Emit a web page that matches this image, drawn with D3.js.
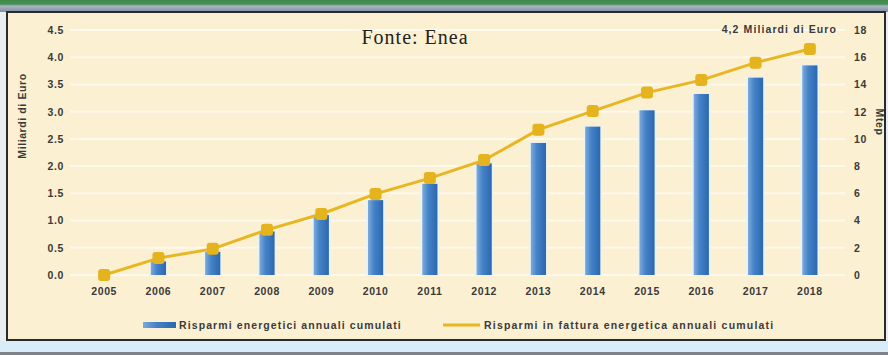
<!DOCTYPE html>
<html><head><meta charset="utf-8">
<script src="https://cdn.jsdelivr.net/npm/d3@7"></script>
<style>html,body{margin:0;padding:0;background:#fff;}svg{display:block;}</style>
</head><body>
<script>
const years = ["2005","2006","2007","2008","2009","2010","2011","2012","2013","2014","2015","2016","2017","2018"];
const energySavingsMtep = [0, 1.0, 1.7, 3.2, 4.4, 5.5, 6.7, 8.2, 9.7, 10.9, 12.1, 13.3, 14.5, 15.4];
const billSavingsBnEuro = [0, 0.31, 0.48, 0.83, 1.12, 1.49, 1.78, 2.11, 2.67, 3.01, 3.35, 3.58, 3.90, 4.15];
const leftTicks = [0, 0.5, 1.0, 1.5, 2.0, 2.5, 3.0, 3.5, 4.0, 4.5];
const rightTicks = [0, 2, 4, 6, 8, 10, 12, 14, 16, 18];
const leftTitle = "Miliardi di Euro";
const rightTitle = "Mtep";
const barLegend = "Risparmi energetici annuali cumulati";
const lineLegend = "Risparmi in fattura energetica annuali cumulati";
const sourceText = "Fonte: Enea";
const endNote = "4,2 Miliardi di Euro";

const W = 888, H = 355;
const svg = d3.select("body").append("svg").attr("width", W).attr("height", H);
const defs = svg.append("defs");

const tg = defs.append("linearGradient").attr("id","topg").attr("x1",0).attr("y1",0).attr("x2",0).attr("y2",1);
tg.append("stop").attr("offset","0%").attr("stop-color","#3e8a48");
tg.append("stop").attr("offset","35%").attr("stop-color","#4b8f5a");
tg.append("stop").attr("offset","50%").attr("stop-color","#a9b6c2");
tg.append("stop").attr("offset","100%").attr("stop-color","#7f8f9f");

const bg = defs.append("linearGradient").attr("id","barg").attr("x1",0).attr("y1",0).attr("x2",1).attr("y2",0);
bg.append("stop").attr("offset","0%").attr("stop-color","#7eaadb");
bg.append("stop").attr("offset","40%").attr("stop-color","#4482c8");
bg.append("stop").attr("offset","100%").attr("stop-color","#2d67ae");

// frame
svg.append("rect").attr("x",0).attr("y",0).attr("width",W).attr("height",H).attr("fill","#e9eef2");
svg.append("rect").attr("x",0).attr("y",0).attr("width",W).attr("height",12).attr("fill","url(#topg)");
svg.append("rect").attr("x",7).attr("y",12).attr("width",878).attr("height",328).attr("fill","#fcf0d2")
  .attr("stroke","#2a2a2a").attr("stroke-width",2);
svg.append("rect").attr("x",0).attr("y",341).attr("width",W).attr("height",11).attr("fill","#d9edf9");
svg.append("rect").attr("x",0).attr("y",352).attr("width",W).attr("height",3).attr("fill","#7d8389");

const x = d3.scaleBand().domain(years).range([77, 837]).paddingInner(0.72).paddingOuter(0.36);
const yL = d3.scaleLinear().domain([0, 4.5]).range([275, 30]);
const yR = d3.scaleLinear().domain([0, 18]).range([275, 30]);
const cx = d => x(d) + x.bandwidth()/2;

// gridlines
svg.append("g").selectAll("line").data(leftTicks).join("line")
  .attr("x1", 70).attr("x2", 845)
  .attr("y1", d => yL(d)).attr("y2", d => yL(d))
  .attr("stroke", "#fffaf0").attr("stroke-width", 2).attr("opacity", 0.9);

const font = "'Liberation Sans', Arial, sans-serif";
const styleText = sel => sel.attr("font-family",font).attr("font-size",10.5).attr("font-weight","bold")
  .attr("letter-spacing",0.6).attr("fill","#3a3a3a");

// left axis
const axL = d3.axisLeft(yL).tickValues(leftTicks).tickFormat(d3.format(".1f")).tickSize(0).tickPadding(0);
const gL = svg.append("g").attr("transform","translate(64,0)").call(axL);
gL.select(".domain").remove();
gL.selectAll("text").call(styleText);

// right axis
const axR = d3.axisRight(yR).tickValues(rightTicks).tickSize(0).tickPadding(0);
const gR = svg.append("g").attr("transform","translate(854,0)").call(axR);
gR.select(".domain").remove();
gR.selectAll("text").call(styleText);

// x axis
const axX = d3.axisBottom(x).tickSize(0).tickPadding(0);
const gX = svg.append("g").attr("transform","translate(0,288)").call(axX);
gX.select(".domain").remove();
gX.selectAll("text").call(styleText);

// axis titles
svg.append("text").attr("transform","translate(26,116) rotate(-90)").attr("text-anchor","middle")
  .call(styleText).text(leftTitle);
svg.append("text").attr("transform","translate(876,122) rotate(90)").attr("text-anchor","middle")
  .call(styleText).text(rightTitle);

// bars
const barData = years.map((y,i) => ({y, v: energySavingsMtep[i]})).filter(d => d.v > 0);
svg.append("g").selectAll("rect.halo").data(barData).join("rect")
  .attr("x", d => x(d.y) - 2).attr("width", x.bandwidth() + 4)
  .attr("y", d => yR(d.v) - 1).attr("height", d => yR(0) - yR(d.v) + 2)
  .attr("fill", "#e6f4f8").attr("opacity", 0.8);
svg.append("g").selectAll("rect.bar").data(barData).join("rect")
  .attr("x", d => x(d.y)).attr("width", x.bandwidth())
  .attr("y", d => yR(d.v)).attr("height", d => yR(0) - yR(d.v))
  .attr("fill", "url(#barg)");

// line
const lineData = years.map((y,i) => ({y, v: billSavingsBnEuro[i]}));
svg.append("path").datum(lineData)
  .attr("d", d3.line().x(d => cx(d.y)).y(d => yL(d.v)))
  .attr("fill","none").attr("stroke","#e8b620").attr("stroke-width",3);
svg.append("g").selectAll("rect").data(lineData).join("rect")
  .attr("x", d => cx(d.y) - 6).attr("y", d => yL(d.v) - 6)
  .attr("width", 12).attr("height", 12).attr("rx", 3)
  .attr("fill", "#e4b31e");

// annotations
svg.append("text").attr("x", 415).attr("y", 44).attr("text-anchor","middle")
  .attr("font-family","'Liberation Serif', 'DejaVu Serif', serif").attr("font-size",20)
  .attr("letter-spacing",1).attr("fill","#222").text(sourceText);
svg.append("text").attr("x", 837).attr("y", 33).attr("text-anchor","end")
  .call(styleText).attr("letter-spacing",1.1).text(endNote);

// legend
const lg = svg.append("g").attr("transform","translate(0,325)");
lg.append("rect").attr("x",143).attr("y",-3).attr("width",33).attr("height",6).attr("fill","url(#barg)");
lg.append("text").attr("x",179).attr("y",4).call(styleText).attr("letter-spacing",1.1).text(barLegend);
lg.append("line").attr("x1",443).attr("x2",480).attr("y1",0).attr("y2",0).attr("stroke","#e8b620").attr("stroke-width",3);
lg.append("text").attr("x",484).attr("y",4).call(styleText).attr("letter-spacing",1.2).text(lineLegend);
</script>
</body></html>
